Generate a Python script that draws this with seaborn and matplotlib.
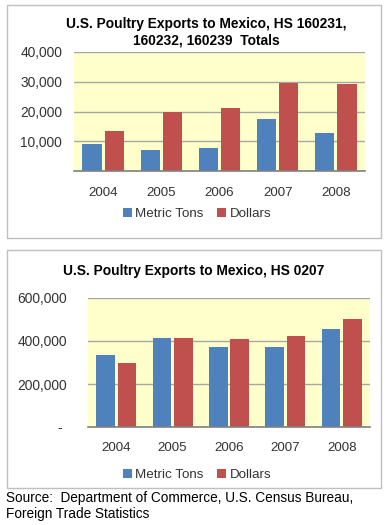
import matplotlib
matplotlib.use("Agg")
import matplotlib.pyplot as plt
from matplotlib.patches import Rectangle
import seaborn as sns
import pandas as pd

years = ["2004", "2005", "2006", "2007", "2008"]
measures = ["Metric Tons", "Dollars"]
top_tons = [9000, 7000, 7700, 17600, 12800]
top_dollars = [13600, 19800, 21100, 29400, 29100]
bot_tons = [335000, 413000, 371000, 371000, 454000]
bot_dollars = [296000, 413000, 408000, 425000, 503000]
top_title = "U.S. Poultry Exports to Mexico, HS 160231,\n160232, 160239  Totals"
bot_title = "U.S. Poultry Exports to Mexico, HS 0207"
top_ticks = [0, 10000, 20000, 30000, 40000]
top_ticklabels = ["", "10,000", "20,000", "30,000", "40,000"]
bot_ticks = [0, 200000, 400000, 600000]
bot_ticklabels = ["-", "200,000", "400,000", "600,000"]
source = "Source:  Department of Commerce, U.S. Census Bureau,\nForeign Trade Statistics"

sns.set_theme(style="white")
plt.rcParams['font.family'] = ['Liberation Sans', 'DejaVu Sans']

W, H = 388, 525
fig = plt.figure(figsize=(W / 100, H / 100), dpi=100)
fig.patch.set_facecolor("white")

def fx(x): return x / W
def fy(y): return 1 - y / H

# panel borders
for (x0, y0, x1, y1) in [(7, 5, 381, 238), (7, 250, 381, 488)]:
    fig.patches.append(Rectangle((fx(x0), fy(y1)), fx(x1) - fx(x0), fy(y0) - fy(y1),
                                 transform=fig.transFigure, facecolor="white",
                                 edgecolor="#BFBFBF", linewidth=1, zorder=-5))

palette = ["#4F81BD", "#C0504D"]

def panel(rect, tons, dollars, ticks, ticklabels, ymax, legend_y, pad, zero_pad):
    df = pd.DataFrame({
        "Year": years * 2,
        "Measure": [measures[0]] * len(years) + [measures[1]] * len(years),
        "Value": tons + dollars,
    })
    ax = fig.add_axes(rect)
    ax.set_zorder(2)
    ax.set_facecolor("#FFFFCC")
    sns.barplot(data=df, x="Year", y="Value", hue="Measure", hue_order=measures,
                palette=palette, saturation=1, width=0.76, gap=0.13, ax=ax,
                edgecolor="none", linewidth=0)
    ax.set_ylim(0, ymax)
    ax.set_xlim(-0.5, 4.5)
    ax.set_yticks(ticks)
    ax.set_yticklabels(ticklabels)
    ax.yaxis.grid(True, color="#A6A6A6", linewidth=1)
    ax.set_axisbelow(True)
    for s in ["top", "right", "left"]:
        ax.spines[s].set_visible(False)
    ax.spines["bottom"].set_color("#808080")
    ax.spines["bottom"].set_linewidth(1.2)
    ax.tick_params(axis="y", length=0, pad=pad, labelsize=9.9, labelcolor="#333333")
    ax.tick_params(axis="x", length=0, pad=11, labelsize=9.6, labelcolor="#333333")
    if zero_pad is not None:
        ax.yaxis.get_major_ticks()[0].set_pad(zero_pad)
    ax.set_xlabel("")
    ax.set_ylabel("")
    h, l = ax.get_legend_handles_labels()
    ax.get_legend().remove()
    leg = fig.legend(h, l, loc="center", bbox_to_anchor=(fx(197), fy(legend_y)), ncol=2,
                     frameon=False, fontsize=9.6, handlelength=0.7, handleheight=0.7,
                     handletextpad=0.25, columnspacing=1.0, labelcolor="#333333")
    leg.set_zorder(3)
    return ax

panel([fx(74), fy(171.3), fx(365) - fx(74), fy(51.7) - fy(171.3)],
      top_tons, top_dollars, top_ticks, top_ticklabels, 40000, 214, 8.6, None)
panel([fx(88), fy(427), fx(370) - fx(88), fy(298) - fy(427)],
      bot_tons, bot_dollars, bot_ticks, bot_ticklabels, 600000, 475, 15, 19)

fig.text(fx(206), fy(32), top_title, ha="center", va="center", fontsize=9.9,
         fontweight="bold", linespacing=1.25, color="black", zorder=3)
fig.text(fx(194), fy(271), bot_title, ha="center", va="center", fontsize=9.9,
         fontweight="bold", color="black", zorder=3)
fig.text(fx(6), fy(506), source, ha="left", va="center", fontsize=9.8,
         linespacing=1.2, color="black", zorder=3)

fig.savefig("out.png", dpi=100)
